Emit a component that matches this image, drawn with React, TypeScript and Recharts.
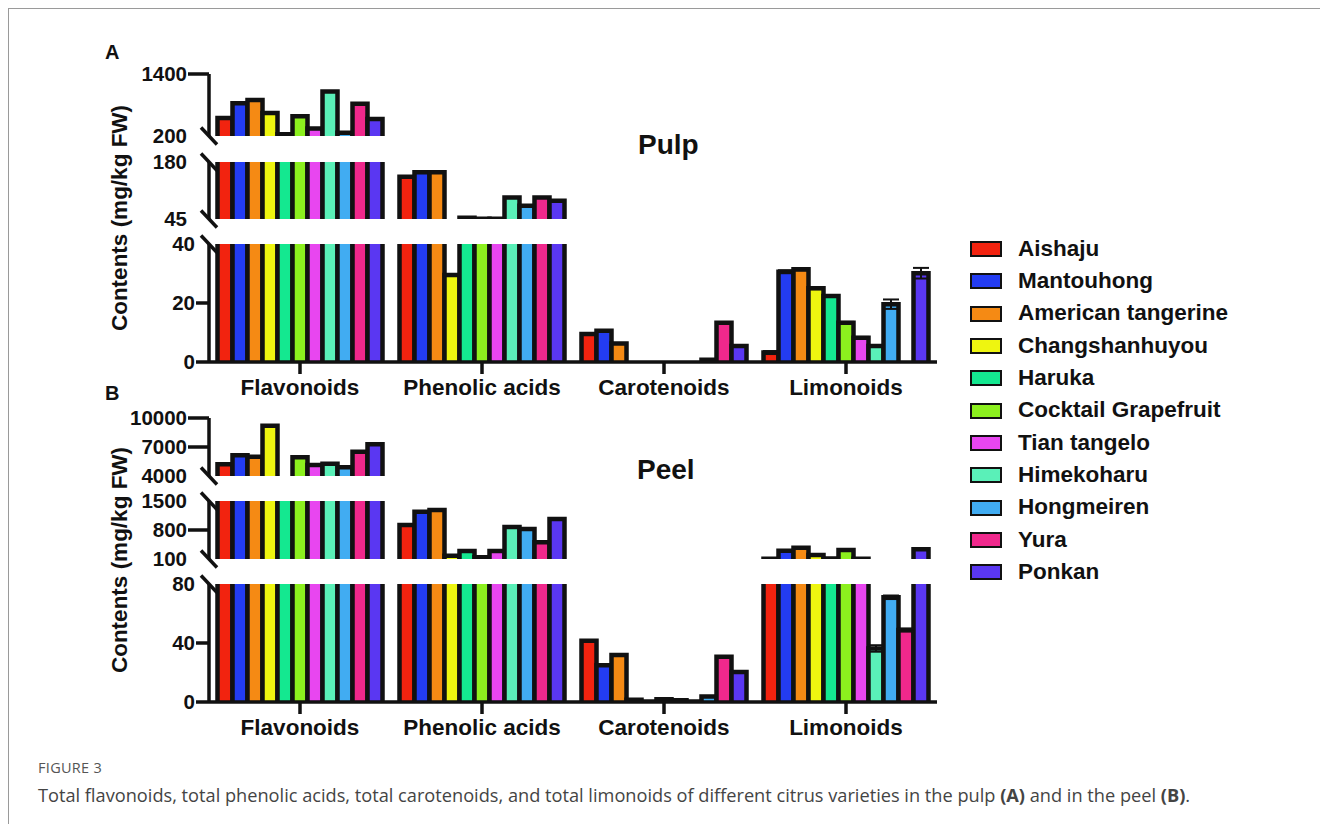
import React from 'react';
import { BarChart, Bar, XAxis, YAxis, ErrorBar, Legend } from 'recharts';

// ---- data -------------------------------------------------------------
const varieties = [
  'Aishaju',
  'Mantouhong',
  'American tangerine',
  'Changshanhuyou',
  'Haruka',
  'Cocktail Grapefruit',
  'Tian tangelo',
  'Himekoharu',
  'Hongmeiren',
  'Yura',
  'Ponkan',
];
const varietyColors = [
  '#f2230f',
  '#233cf2',
  '#f58a14',
  '#eef510',
  '#14e890',
  '#8cf01e',
  '#e846f0',
  '#5af0b8',
  '#41acf2',
  '#f0288c',
  '#5a37f2',
];
const categories = ['Flavonoids', 'Phenolic acids', 'Carotenoids', 'Limonoids'];

// Pulp, mg/kg FW (one value per variety)
const pulpFlavonoids = [549, 834, 899, 644, 232, 581, 346, 1063, 263, 822, 530];
const pulpPhenolicAcids = [145, 156, 156, 29.5, 48, 45.6, 45.6, 96, 76.5, 96, 88];
const pulpCarotenoids = [9.5, 10.6, 6.3, 0, 0, 0, 0, 0, 0.8, 13.3, 5.4];
const pulpLimonoids = [3.2, 30.6, 31.4, 25, 22.4, 13.3, 8.2, 5.4, 19.6, 0, 30.1];
const pulpLimonoidsSd = [0.5, 0.5, 0.4, 0.3, 0.3, 0.3, 0.3, 0.3, 1.6, 0, 1.8];

// Peel, mg/kg FW
const peelFlavonoids = [5210, 6140, 6000, 9200, 2800, 5930, 5140, 5270, 4900, 6510, 7280];
const peelPhenolicAcids = [921, 1243, 1283, 180, 293, 141, 293, 873, 825, 503, 1066];
const peelCarotenoids = [41.5, 25, 31.8, 1.5, 0.3, 1.8, 1.2, 0.3, 3.8, 30.6, 20.4];
const peelLimonoids = [105, 300, 373, 197, 112, 317, 106, 36.3, 71, 48.8, 334];
const peelLimonoidsSd = [3, 8, 10, 5, 3, 8, 3, 2.2, 1.2, 1.0, 10];

// broken-axis ranges and tick labels for each panel (top segment first)
const pulpRanges = [
  { lo: 200, hi: 1400, ticks: [200, 1400] },
  { lo: 45, hi: 180, ticks: [45, 180] },
  { lo: 0, hi: 40, ticks: [0, 20, 40] },
];
const peelRanges = [
  { lo: 4000, hi: 10000, ticks: [4000, 7000, 10000] },
  { lo: 100, hi: 1500, ticks: [100, 800, 1500] },
  { lo: 0, hi: 80, ticks: [0, 40, 80] },
];

// ---- layout -----------------------------------------------------------
const FONT = '"Liberation Sans", Arial, Helvetica, sans-serif';
const INK = '#111';
const OX = 9; // page offset of the framed box content
const OY = 9;
const PLOT_LEFT = 209;
const PLOT_RIGHT = 937;
const Y_AXIS_W = 109;
const CHART_LEFT = PLOT_LEFT - Y_AXIS_W;
const CHART_W = PLOT_RIGHT - CHART_LEFT;
const PAD = 14;
const X_AXIS_H = 52;
const BAR_STROKE = 4.5;
const AXIS_STROKE = 3.5;

const pulpBands = [
  [74, 136],
  [162, 219],
  [244, 362],
];
const peelBands = [
  [418, 476],
  [501, 559],
  [584, 702],
];

type Range = { lo: number; hi: number; ticks: number[] };

function rowsFor(series: number[][], sd: (number[] | null)[], r: Range) {
  return categories.map((cat, ci) => {
    const row: Record<string, any> = { category: cat };
    varieties.forEach((_, vi) => {
      const v = series[ci][vi];
      row['v' + vi] = v > r.lo ? v : null;
      const e = sd[ci] ? (sd[ci] as number[])[vi] : null;
      row['e' + vi] = e && v > r.lo && v <= r.hi ? e : null;
    });
    return row;
  });
}

// bar with the outline open at the base, so segment bases stay clean
const OpenBaseBar = (props: any) => {
  const { x, y, width, height, fill } = props;
  if (!(width > 0) || !(height > 0)) return null;
  const d = `M${x},${y + height} L${x},${y} L${x + width},${y} L${x + width},${y + height}`;
  return (
    <g>
      <rect x={x} y={y} width={width} height={height} fill={fill} />
      <path d={d} fill="none" stroke={INK} strokeWidth={BAR_STROKE} strokeLinejoin="miter" />
    </g>
  );
};

function makeYTick(r: Range, breakLo: boolean, breakHi: boolean, textRight: number) {
  return (props: any) => {
    const { x, y, payload } = props;
    const v = payload.value;
    const isBreak = (v === r.lo && breakLo) || (v === r.hi && breakHi);
    const tx = x - (PLOT_LEFT - textRight);
    return (
      <g>
        {isBreak ? (
          <line x1={x - 8} y1={y - 8.5} x2={x + 8} y2={y + 8.5} stroke={INK} strokeWidth={AXIS_STROKE} />
        ) : (
          <line x1={tx + 1} y1={y} x2={x} y2={y} stroke={INK} strokeWidth={AXIS_STROKE} />
        )}
        <text
          x={tx}
          y={y}
          dy="0.36em"
          textAnchor="end"
          fill={INK}
          fontFamily={FONT}
          fontWeight={700}
          fontSize={20.5}
        >
          {v}
        </text>
      </g>
    );
  };
}

const LegendList = (props: any) => {
  const items = [...(props.payload || [])].sort(
    (a: any, b: any) => varieties.indexOf(a.value) - varieties.indexOf(b.value)
  );
  return (
    <div style={{ fontFamily: FONT, fontWeight: 700, fontSize: 22.5, color: INK }}>
      {items.map((p: any) => (
        <div key={p.value} style={{ display: 'flex', alignItems: 'center', height: 32.3 }}>
          <span
            style={{
              display: 'inline-block',
              width: 32,
              height: 16,
              background: p.color,
              border: `2.5px solid ${INK}`,
              boxSizing: 'border-box',
              marginRight: 16,
            }}
          />
          <span style={{ lineHeight: 1 }}>{p.value}</span>
        </div>
      ))}
    </div>
  );
};

function Segment(props: {
  series: number[][];
  sd: (number[] | null)[];
  range: Range;
  band: number[];
  index: number;
  withLegend?: boolean;
}) {
  const { series, sd, range, band, index, withLegend } = props;
  const isBottom = index === 2;
  const plotH = band[1] - band[0];
  const height = PAD + plotH + (isBottom ? X_AXIS_H : PAD);
  const top = band[0] - PAD;
  const data = rowsFor(series, sd, range);
  const breakLo = index < 2;
  const breakHi = index > 0;
  return (
    <div style={{ position: 'absolute', left: CHART_LEFT - OX, top: top - OY }}>
      <BarChart
        width={CHART_W}
        height={height}
        data={data}
        margin={{ top: PAD, right: 0, bottom: isBottom ? 0 : PAD, left: 0 }}
        barCategoryGap={8.5}
        barGap={0}
      >
        <XAxis
          dataKey="category"
          hide={!isBottom}
          height={X_AXIS_H}
          axisLine={{ stroke: INK, strokeWidth: AXIS_STROKE }}
          tickLine={{ stroke: INK, strokeWidth: AXIS_STROKE }}
          tickSize={12}
          tickMargin={5}
          interval={0}
          tick={{ fill: INK, fontSize: 22.5, fontWeight: 700, fontFamily: FONT }}
        />
        <YAxis
          type="number"
          width={Y_AXIS_W}
          domain={[range.lo, range.hi]}
          ticks={range.ticks}
          allowDataOverflow
          interval={0}
          tickSize={0}
          tickMargin={0}
          tickLine={false}
          axisLine={{ stroke: INK, strokeWidth: AXIS_STROKE }}
          tick={makeYTick(range, breakLo, breakHi, isBottom ? 195 : 187)}
        />
        {varieties.map((name, vi) => (
          <Bar
            key={name}
            dataKey={'v' + vi}
            name={name}
            fill={varietyColors[vi]}
            shape={OpenBaseBar}
            isAnimationActive={false}
          >
            {isBottom && (
              <ErrorBar
                dataKey={'e' + vi}
                width={8}
                stroke={INK}
                strokeWidth={2}
                direction="y"
                isAnimationActive={false}
              />
            )}
          </Bar>
        ))}
        {withLegend && (
          <Legend
            layout="vertical"
            align="center"
            verticalAlign="middle"
            width={320}
            content={LegendList}
            wrapperStyle={{ left: 970 - CHART_LEFT, top: 233 - top, width: 320 }}
          />
        )}
      </BarChart>
    </div>
  );
}

function Panel(props: {
  series: number[][];
  sd: (number[] | null)[];
  ranges: Range[];
  bands: number[][];
  letter: string;
  letterY: number;
  title: string;
  titleX: number;
  titleY: number;
  withLegend?: boolean;
}) {
  const { series, sd, ranges, bands, letter, letterY, title, titleX, titleY, withLegend } = props;
  const axisMid = (bands[0][0] + bands[2][1]) / 2;
  return (
    <>
      <div
        style={{
          position: 'absolute',
          left: 105 - OX,
          top: letterY - 10 - OY,
          fontFamily: FONT,
          fontWeight: 700,
          fontSize: 20,
          lineHeight: '20px',
          color: INK,
        }}
      >
        {letter}
      </div>
      <div
        style={{
          position: 'absolute',
          left: 120 - OX,
          top: axisMid - OY,
          transform: 'translate(-50%, -50%) rotate(-90deg)',
          whiteSpace: 'nowrap',
          fontFamily: FONT,
          fontWeight: 700,
          fontSize: 22.5,
          lineHeight: '24px',
          color: INK,
        }}
      >
        Contents (mg/kg FW)
      </div>
      {ranges.map((r, i) => (
        <Segment
          key={i}
          series={series}
          sd={sd}
          range={r}
          band={bands[i]}
          index={i}
          withLegend={withLegend && i === 2}
        />
      ))}
      <div
        style={{
          position: 'absolute',
          left: titleX - OX,
          top: titleY - 14 - OY,
          fontFamily: FONT,
          fontWeight: 700,
          fontSize: 28,
          lineHeight: '28px',
          color: INK,
        }}
      >
        {title}
      </div>
    </>
  );
}

export default function App() {
  const pulpSeries = [pulpFlavonoids, pulpPhenolicAcids, pulpCarotenoids, pulpLimonoids];
  const peelSeries = [peelFlavonoids, peelPhenolicAcids, peelCarotenoids, peelLimonoids];
  return (
    <div
      style={{
        position: 'relative',
        width: 1311,
        height: 815,
        borderLeft: '1px solid #9a9a9a',
        borderTop: '1px solid #9a9a9a',
        background: '#fff',
        overflow: 'hidden',
      }}
    >
      <Panel
        series={pulpSeries}
        sd={[null, null, null, pulpLimonoidsSd]}
        ranges={pulpRanges}
        bands={pulpBands}
        letter="A"
        letterY={52}
        title="Pulp"
        titleX={638}
        titleY={145}
        withLegend
      />
      <Panel
        series={peelSeries}
        sd={[null, null, null, peelLimonoidsSd]}
        ranges={peelRanges}
        bands={peelBands}
        letter="B"
        letterY={393}
        title="Peel"
        titleX={637}
        titleY={470}
      />
      <div
        style={{
          position: 'absolute',
          left: 38 - OX,
          top: 760 - OY,
          fontFamily: '"Open Sans", "Noto Sans", sans-serif',
          fontSize: 14.5,
          lineHeight: '16px',
          color: '#555',
          letterSpacing: 0.3,
        }}
      >
        FIGURE 3
      </div>
      <div
        style={{
          position: 'absolute',
          left: 38 - OX,
          top: 784 - OY,
          fontFamily: '"Open Sans", "Noto Sans", sans-serif',
          fontSize: 18.2,
          lineHeight: '22px',
          color: '#444',
          whiteSpace: 'nowrap',
        }}
      >
        Total flavonoids, total phenolic acids, total carotenoids, and total limonoids of different citrus
        varieties in the pulp <b>(A)</b> and in the peel <b>(B)</b>.
      </div>
    </div>
  );
}
